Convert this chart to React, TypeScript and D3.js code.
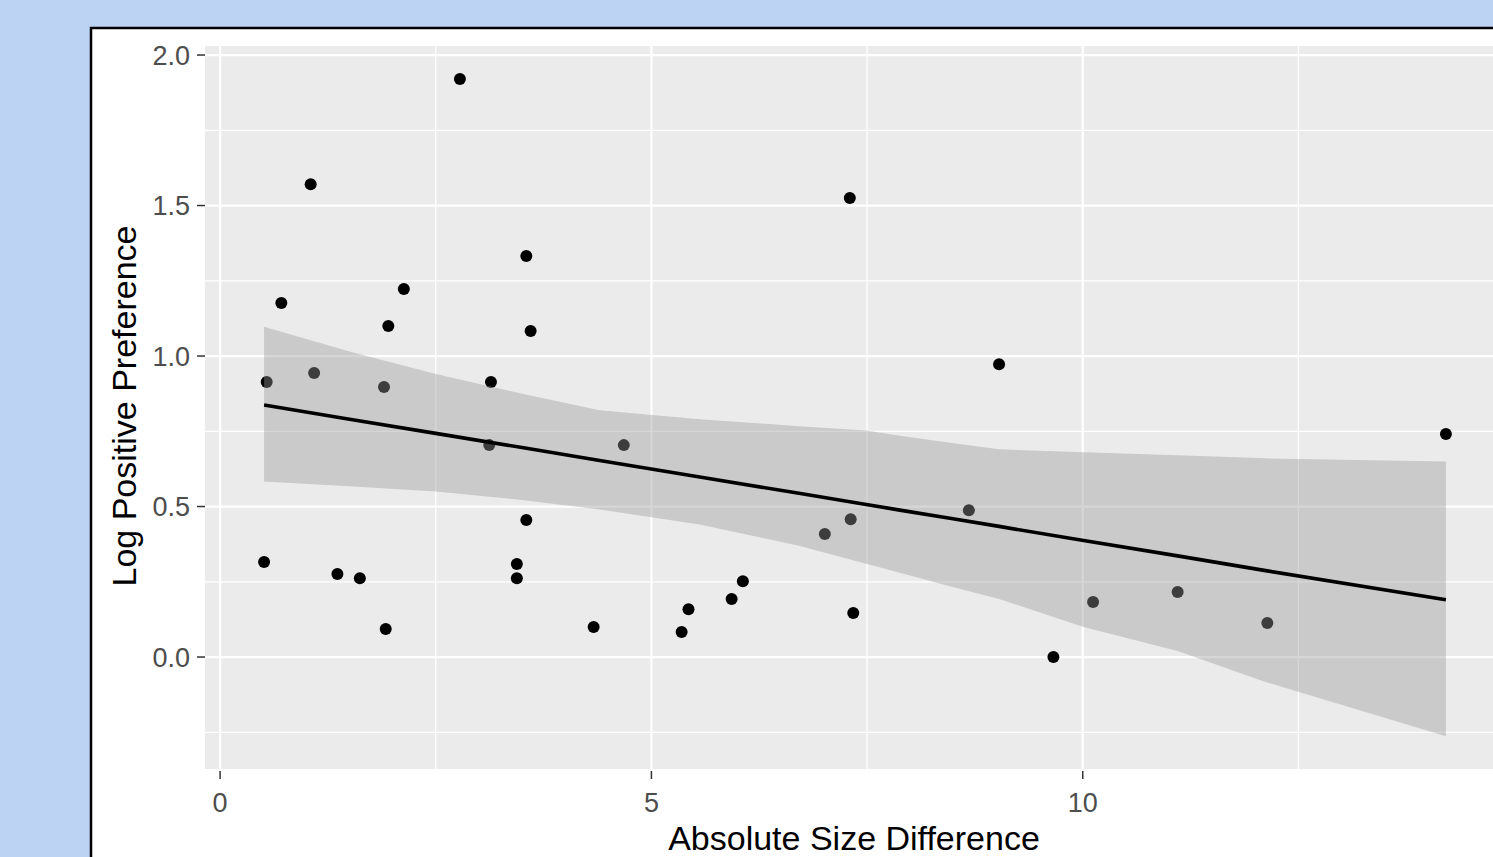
import React, { useEffect, useRef } from 'react';
import * as d3 from 'd3';

// scatter points
const sizeDiff = [
  2.78, 1.05, 7.30, 3.55, 2.13, 0.71, 3.60, 1.95, 9.03, 0.54, 1.09, 1.90,
  3.14, 14.21, 3.12, 4.68, 8.68, 3.55, 7.31, 7.01, 0.51, 3.44, 3.44, 1.36,
  1.62, 6.06, 11.10, 5.93, 10.12, 5.43, 7.34, 12.14, 4.33, 1.92, 5.35, 9.66
];
const logPref = [
  1.92, 1.571, 1.525, 1.332, 1.223, 1.176, 1.083, 1.10, 0.973, 0.914, 0.944, 0.897,
  0.914, 0.741, 0.704, 0.704, 0.488, 0.455, 0.458, 0.409, 0.316, 0.309, 0.262, 0.276,
  0.262, 0.252, 0.216, 0.193, 0.183, 0.159, 0.146, 0.113, 0.10, 0.093, 0.083, 0.0
];

// smoother (lm + 95% band) read at a few x positions
const smoothX = [0.51, 1.5, 2.5, 3.5, 4.4, 5.56, 6.71, 7.49, 7.88, 8.46, 9.03, 10.01, 11.1, 12.12, 14.21];
const smoothFit = [0.837, 0.79, 0.743, 0.696, 0.653, 0.598, 0.544, 0.507, 0.488, 0.461, 0.434, 0.387, 0.336, 0.287, 0.19];
const smoothUpper = [1.097, 1.015, 0.94, 0.875, 0.82, 0.79, 0.767, 0.753, 0.735, 0.712, 0.69, 0.68, 0.67, 0.66, 0.65];
const smoothLower = [0.583, 0.567, 0.55, 0.522, 0.49, 0.44, 0.37, 0.31, 0.28, 0.235, 0.193, 0.10, 0.02, -0.083, -0.263];

const xBreaks = [0, 5, 10];
const xMinor = [2.5, 7.5, 12.5];
const yBreaks = [0, 0.5, 1, 1.5, 2];
const yMinor = [-0.25, 0.25, 0.75, 1.25, 1.75];

const WIDTH = 1493;
const HEIGHT = 857;

const App: React.FC = () => {
  const svgRef = useRef<SVGSVGElement>(null);

  useEffect(() => {
    if (!svgRef.current) return;
    const svg = d3.select(svgRef.current);
    svg.selectAll('*').remove();

    const panel = { left: 205, right: 1505, top: 46, bottom: 769 };
    const x = d3.scaleLinear().domain([-0.175, 14.895]).range([panel.left, panel.right]);
    const y = d3.scaleLinear().domain([-0.372, 2.03]).range([panel.bottom, panel.top]);

    // slide background + white card
    svg.append('rect').attr('width', WIDTH).attr('height', HEIGHT).attr('fill', '#bdd3f3');
    svg.append('rect')
      .attr('x', 91).attr('y', 28)
      .attr('width', 1500).attr('height', 900)
      .attr('fill', 'white')
      .attr('stroke', 'black')
      .attr('stroke-width', 2.5);

    svg.append('rect')
      .attr('x', panel.left).attr('y', panel.top)
      .attr('width', panel.right - panel.left).attr('height', panel.bottom - panel.top)
      .attr('fill', '#ebebeb');

    const grid = svg.append('g');
    yMinor.forEach(v => {
      grid.append('line')
        .attr('x1', panel.left).attr('x2', panel.right)
        .attr('y1', y(v)).attr('y2', y(v))
        .attr('stroke', 'white').attr('stroke-width', 1.3);
    });
    xMinor.forEach(v => {
      grid.append('line')
        .attr('x1', x(v)).attr('x2', x(v))
        .attr('y1', panel.top).attr('y2', panel.bottom)
        .attr('stroke', 'white').attr('stroke-width', 1.3);
    });
    yBreaks.forEach(v => {
      grid.append('line')
        .attr('x1', panel.left).attr('x2', panel.right)
        .attr('y1', y(v)).attr('y2', y(v))
        .attr('stroke', 'white').attr('stroke-width', 2.2);
    });
    xBreaks.forEach(v => {
      grid.append('line')
        .attr('x1', x(v)).attr('x2', x(v))
        .attr('y1', panel.top).attr('y2', panel.bottom)
        .attr('stroke', 'white').attr('stroke-width', 2.2);
    });

    // points first, the band sits on top of them like in ggplot
    svg.append('g')
      .selectAll('circle')
      .data(sizeDiff.map((d, i) => [d, logPref[i]]))
      .enter().append('circle')
      .attr('cx', d => x(d[0]))
      .attr('cy', d => y(d[1]))
      .attr('r', 6)
      .attr('fill', 'black');

    const band = smoothX.map((d, i) => ({ x: d, fit: smoothFit[i], lo: smoothLower[i], hi: smoothUpper[i] }));

    const area = d3.area<any>()
      .x(d => x(d.x))
      .y0(d => y(d.lo))
      .y1(d => y(d.hi));
    svg.append('path')
      .attr('d', area(band) as string)
      .attr('fill', '#999999')
      .attr('fill-opacity', 0.4);

    const line = d3.line<any>()
      .x(d => x(d.x))
      .y(d => y(d.fit));
    svg.append('path')
      .attr('d', line(band) as string)
      .attr('fill', 'none')
      .attr('stroke', 'black')
      .attr('stroke-width', 3.6);

    // axes
    const axes = svg.append('g').style('font-family', '"Liberation Sans", Arial, sans-serif');

    yBreaks.forEach(v => {
      axes.append('line')
        .attr('x1', panel.left - 8).attr('x2', panel.left)
        .attr('y1', y(v)).attr('y2', y(v))
        .attr('stroke', '#333333').attr('stroke-width', 1.5);
      axes.append('text')
        .attr('x', panel.left - 15)
        .attr('y', y(v))
        .attr('dy', '0.36em')
        .attr('text-anchor', 'end')
        .style('font-size', '27px')
        .style('fill', '#4d4d4d')
        .text(d3.format('.1f')(v));
    });

    xBreaks.forEach(v => {
      axes.append('line')
        .attr('x1', x(v)).attr('x2', x(v))
        .attr('y1', panel.bottom + 2).attr('y2', panel.bottom + 10)
        .attr('stroke', '#333333').attr('stroke-width', 1.5);
      axes.append('text')
        .attr('x', x(v))
        .attr('y', 812)
        .attr('text-anchor', 'middle')
        .style('font-size', '27px')
        .style('fill', '#4d4d4d')
        .text(String(v));
    });

    axes.append('text')
      .attr('x', 854)
      .attr('y', 850)
      .attr('text-anchor', 'middle')
      .style('font-size', '34px')
      .style('fill', 'black')
      .text('Absolute Size Difference');

    axes.append('text')
      .attr('transform', 'translate(136, 406) rotate(-90)')
      .attr('text-anchor', 'middle')
      .style('font-size', '34px')
      .style('fill', 'black')
      .text('Log Positive Preference');
  }, []);

  return (
    <svg
      ref={svgRef}
      width={WIDTH}
      height={HEIGHT}
      style={{ position: 'fixed', top: 0, left: 0, display: 'block' }}
    />
  );
};

export default App;
